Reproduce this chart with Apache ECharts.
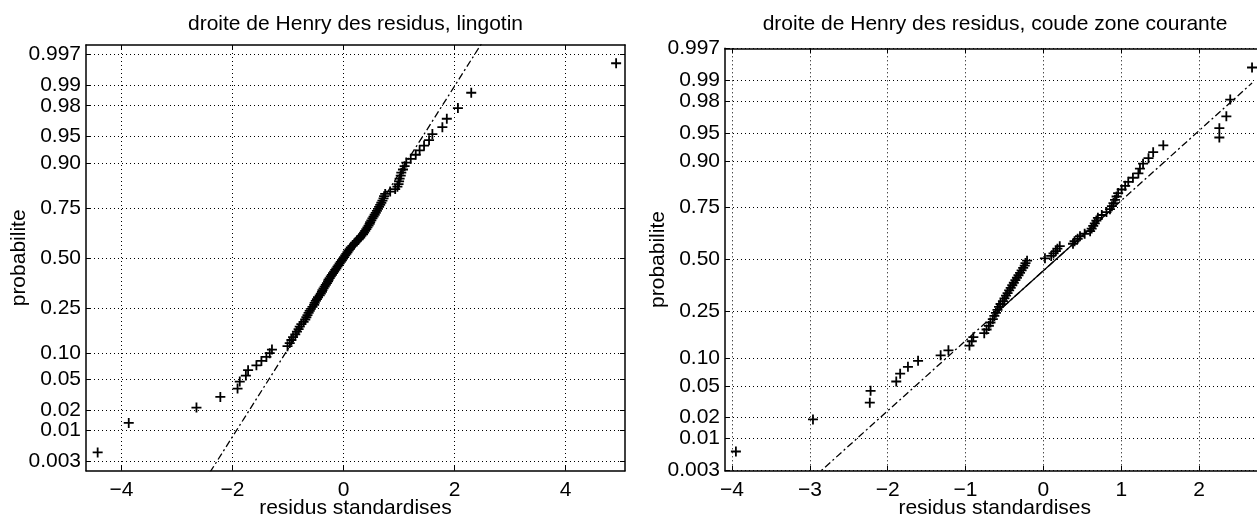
<!DOCTYPE html>
<html><head><meta charset="utf-8">
<script src="https://cdn.jsdelivr.net/npm/echarts@6/dist/echarts.min.js"></script>
<style>html,body{margin:0;padding:0;background:#fff}#c{width:1257px;height:523px}</style>
</head><body><div id="c"></div>
<script>
// ---- data ----
const titles = ['droite de Henry des residus, lingotin', 'droite de Henry des residus, coude zone courante'];
const xName = 'residus standardises';
const yName = 'probabilite';
const probTicks = [0.003, 0.01, 0.02, 0.05, 0.10, 0.25, 0.50, 0.75, 0.90, 0.95, 0.98, 0.99, 0.997];
const probTickLabels = ['0.003', '0.01', '0.02', '0.05', '0.10', '0.25', '0.50', '0.75', '0.90', '0.95', '0.98', '0.99', '0.997'];
const xTicksLeft = [-4, -2, 0, 2, 4];
const xTicksRight = [-4, -3, -2, -1, 0, 1, 2];

const residLeft = [
 -4.43, -3.87, -2.65, -2.22, -1.91, -1.87, -1.76, -1.72, -1.57, -1.48,
 -1.39, -1.33, -1.29, -1.01, -0.97, -0.94, -0.91, -0.87, -0.84, -0.81,
 -0.79, -0.76, -0.72, -0.69, -0.67, -0.65, -0.63, -0.61, -0.59, -0.56,
 -0.53, -0.52, -0.50, -0.48, -0.46, -0.43, -0.41, -0.39, -0.38, -0.36,
 -0.34, -0.32, -0.30, -0.28, -0.27, -0.25, -0.23, -0.21, -0.19, -0.17,
 -0.15, -0.13, -0.11, -0.09, -0.07, -0.05, -0.03, -0.01,
 0.01, 0.03, 0.05, 0.07, 0.09, 0.11, 0.13, 0.16, 0.19, 0.21,
 0.24, 0.27, 0.30, 0.32, 0.35, 0.37, 0.39, 0.41, 0.43, 0.45,
 0.47, 0.48, 0.50, 0.52, 0.54, 0.56, 0.58, 0.60, 0.62, 0.64,
 0.66, 0.68, 0.70, 0.72, 0.73, 0.75, 0.84, 0.93, 0.97, 0.99,
 1.00, 1.01, 1.03, 1.04, 1.07, 1.10, 1.13, 1.21, 1.30, 1.37,
 1.45, 1.54, 1.60, 1.78, 1.86, 2.06, 2.30, 4.91
];
const probLeft = [
 0.0043, 0.0129, 0.0216, 0.0302, 0.0388, 0.0474, 0.0560, 0.0647, 0.0733, 0.0819,
 0.0905, 0.0991, 0.1078, 0.1164, 0.1250, 0.1336, 0.1422, 0.1509, 0.1595, 0.1681,
 0.1767, 0.1853, 0.1940, 0.2026, 0.2112, 0.2198, 0.2284, 0.2371, 0.2457, 0.2543,
 0.2629, 0.2716, 0.2802, 0.2888, 0.2974, 0.3060, 0.3147, 0.3233, 0.3319, 0.3405,
 0.3491, 0.3578, 0.3664, 0.3750, 0.3836, 0.3922, 0.4009, 0.4095, 0.4181, 0.4267,
 0.4353, 0.4440, 0.4526, 0.4612, 0.4698, 0.4784, 0.4871, 0.4957,
 0.5043, 0.5129, 0.5216, 0.5302, 0.5388, 0.5474, 0.5560, 0.5647, 0.5733, 0.5819,
 0.5905, 0.5991, 0.6078, 0.6164, 0.6250, 0.6336, 0.6422, 0.6509, 0.6595, 0.6681,
 0.6767, 0.6853, 0.6940, 0.7026, 0.7112, 0.7198, 0.7284, 0.7371, 0.7457, 0.7543,
 0.7629, 0.7716, 0.7802, 0.7888, 0.7974, 0.8060, 0.8147, 0.8233, 0.8319, 0.8405,
 0.8491, 0.8578, 0.8664, 0.8750, 0.8836, 0.8922, 0.9009, 0.9095, 0.9181, 0.9267,
 0.9353, 0.9440, 0.9526, 0.9612, 0.9698, 0.9784, 0.9871, 0.9957
];
const residRight = [
 -3.95, -2.96, -2.23, -2.22, -1.89, -1.84, -1.74, -1.61, -1.32, -1.22,
 -0.95, -0.92, -0.90, -0.76, -0.73, -0.70, -0.68, -0.65, -0.63, -0.61,
 -0.59, -0.57, -0.55, -0.52, -0.50, -0.48, -0.46, -0.44, -0.42, -0.40,
 -0.38, -0.36, -0.34, -0.32, -0.30, -0.28, -0.26, -0.24, -0.23, -0.21,
 0.02, 0.10, 0.13, 0.16, 0.18, 0.21, 0.38, 0.40, 0.44, 0.47,
 0.53, 0.60, 0.62, 0.64, 0.66, 0.68, 0.70, 0.75, 0.81, 0.855,
 0.88, 0.90, 0.92, 0.94, 0.96, 1.005, 1.05, 1.09, 1.15, 1.22,
 1.24, 1.28, 1.35, 1.41, 1.54, 2.26, 2.26, 2.35, 2.40, 2.68
];
const probRight = [
 0.00625, 0.01875, 0.03125, 0.04375, 0.05625, 0.06875, 0.08125, 0.09375, 0.10625, 0.11875,
 0.13125, 0.14375, 0.15625, 0.16875, 0.18125, 0.19375, 0.20625, 0.21875, 0.23125, 0.24375,
 0.25625, 0.26875, 0.28125, 0.29375, 0.30625, 0.31875, 0.33125, 0.34375, 0.35625, 0.36875,
 0.38125, 0.39375, 0.40625, 0.41875, 0.43125, 0.44375, 0.45625, 0.46875, 0.48125, 0.49375,
 0.50625, 0.51875, 0.53125, 0.54375, 0.55625, 0.56875, 0.58125, 0.59375, 0.60625, 0.61875,
 0.63125, 0.64375, 0.65625, 0.66875, 0.68125, 0.69375, 0.70625, 0.71875, 0.73125, 0.74375,
 0.75625, 0.76875, 0.78125, 0.79375, 0.80625, 0.81875, 0.83125, 0.84375, 0.85625, 0.86875,
 0.88125, 0.89375, 0.90625, 0.91875, 0.93125, 0.94375, 0.95625, 0.96875, 0.98125, 0.99375
];
// Henry line: passes through the quartile points (x at p=0.25, x at p=0.75), extended over the data range
const henryLeftQuartiles = [-0.53, 0.61];
const henryRightQuartiles = [-0.58, 0.90];
const henryLeftRange = [-4.43, 4.91];
const henryRightRange = [-3.95, 2.68];

// ---- normal probability scale ----
function norminv(p) {
  const a = [-3.969683028665376e+01, 2.209460984245205e+02, -2.759285104469687e+02, 1.383577518672690e+02, -3.066479806614716e+01, 2.506628277459239e+00];
  const b = [-5.447609879822406e+01, 1.615858368580409e+02, -1.556989798598866e+02, 6.680131188771972e+01, -1.328068155288572e+01];
  const c = [-7.784894002430293e-03, -3.223964580411365e-01, -2.400758277161838e+00, -2.549671010243243e+00, 4.374664141464968e+00, 2.938163982698783e+00];
  const d = [7.784695709041462e-03, 3.224671290700398e-01, 2.445134137142996e+00, 3.754408661907416e+00];
  const pl = 0.02425, ph = 1 - pl;
  let q, r;
  if (p < pl) { q = Math.sqrt(-2 * Math.log(p)); return (((((c[0]*q+c[1])*q+c[2])*q+c[3])*q+c[4])*q+c[5]) / ((((d[0]*q+d[1])*q+d[2])*q+d[3])*q+1); }
  if (p <= ph) { q = p - 0.5; r = q*q; return (((((a[0]*r+a[1])*r+a[2])*r+a[3])*r+a[4])*r+a[5])*q / (((((b[0]*r+b[1])*r+b[2])*r+b[3])*r+b[4])*r+1); }
  q = Math.sqrt(-2 * Math.log(1 - p));
  return -(((((c[0]*q+c[1])*q+c[2])*q+c[3])*q+c[4])*q+c[5]) / ((((d[0]*q+d[1])*q+d[2])*q+d[3])*q+1);
}
const zTicks = probTicks.map(norminv);
function probLabel(v) {
  let best = 0, bd = 1e9;
  zTicks.forEach((z, i) => { const dd = Math.abs(z - v); if (dd < bd) { bd = dd; best = i; } });
  return probTickLabels[best];
}
function xLabel(v) { return v < 0 ? '\u2212' + Math.abs(v) : String(v); }

const FONT = "'Liberation Sans', Arial, Helvetica, sans-serif";
const FS = 21;
const zQ = norminv(0.75);
function henry(quart, range) {
  const slope = 2 * zQ / (quart[1] - quart[0]);
  const f = x => -zQ + (x - quart[0]) * slope;
  return {
    full: [[range[0], f(range[0])], [range[1], f(range[1])]],
    mid: [[quart[0], -zQ], [quart[1], zQ]]
  };
}

const grids = [
  { left: 86, right: 632, top: 45, bottom: 52.3 },
  { left: 725, right: -7.5, top: 48.3, bottom: 52.3 }
];
const ranges = [
  { xmin: -4.64, xmax: 5.07, zmin: -2.874, zmax: 2.874, xt: xTicksLeft },
  { xmin: -4.09, xmax: 2.84, zmin: norminv(0.003), zmax: norminv(0.997), xt: xTicksRight }
];

const axisLine = { show: true, onZero: false, lineStyle: { color: '#000', width: 1.5 } };
const tickStyle = { color: '#000', width: 1 };
const gridLine = { show: true, lineStyle: { color: '#000', width: 1, type: [1, 3] } };

const xAxes = [], yAxes = [];
ranges.forEach((r, g) => {
  xAxes.push({
    type: 'value', gridIndex: g, position: 'bottom', min: r.xmin, max: r.xmax,
    axisLine, axisTick: { show: true, inside: true, length: 5, customValues: r.xt, lineStyle: tickStyle },
    axisLabel: { customValues: r.xt, formatter: xLabel, fontSize: FS, fontFamily: FONT, color: '#000', margin: 9 },
    splitLine: gridLine,
    name: xName, nameLocation: 'middle', nameGap: 27, nameMoveOverlap: false,
    nameTextStyle: { fontSize: FS, fontFamily: FONT, color: '#000', verticalAlign: 'top' }
  });
  xAxes.push({
    type: 'value', gridIndex: g, position: 'top', min: r.xmin, max: r.xmax,
    axisLine, axisTick: { show: true, inside: true, length: 5, customValues: r.xt, lineStyle: tickStyle },
    axisLabel: { show: false }, splitLine: { show: false }
  });
  yAxes.push({
    type: 'value', gridIndex: g, position: 'left', min: r.zmin, max: r.zmax,
    axisLine, axisTick: { show: true, inside: true, length: 5, customValues: zTicks, lineStyle: tickStyle },
    axisLabel: { customValues: zTicks, formatter: probLabel, fontSize: FS, fontFamily: FONT, color: '#000', margin: 5, hideOverlap: false },
    splitLine: gridLine,
    name: yName, nameLocation: 'middle', nameRotate: 90, nameGap: 56, nameMoveOverlap: false,
    nameTextStyle: { fontSize: FS, fontFamily: FONT, color: '#000' }
  });
  yAxes.push({
    type: 'value', gridIndex: g, position: 'right', min: r.zmin, max: r.zmax,
    axisLine, axisTick: { show: true, inside: true, length: 5, customValues: zTicks, lineStyle: tickStyle },
    axisLabel: { show: false }, splitLine: { show: false }
  });
});

const plus = 'path://M4.1,0H5.9V4.1H10V5.9H5.9V10H4.1V5.9H0V4.1H4.1Z';
const hl = henry(henryLeftQuartiles, henryLeftRange);
const hr = henry(henryRightQuartiles, henryRightRange);
const dashDot = [7, 3, 2, 3];
function lineSeries(data, xi, yi, type) {
  return { type: 'line', xAxisIndex: xi, yAxisIndex: yi, data, symbol: 'none', clip: true, silent: true, z: 2,
    lineStyle: { color: '#000', width: 1.3, type } };
}
function scatterSeries(resid, prob, xi, yi) {
  return { type: 'scatter', xAxisIndex: xi, yAxisIndex: yi, symbol: plus, symbolSize: 10, silent: true, z: 3,
    itemStyle: { color: '#000', opacity: 1 }, data: resid.map((x, i) => [x, norminv(prob[i])]) };
}

const chart = echarts.init(document.getElementById('c'), null, { renderer: 'canvas' });
chart.setOption({
  animation: false,
  backgroundColor: '#fff',
  grid: grids.map(g => Object.assign({ containLabel: false, outerBoundsMode: 'none' }, g)),
  xAxis: xAxes,
  yAxis: yAxes,
  graphic: [
    { type: 'text', x: 355.5, y: 14, style: { text: titles[0], align: 'center', font: FS + 'px ' + FONT, fill: '#000' } },
    { type: 'text', x: 995, y: 14, style: { text: titles[1], align: 'center', font: FS + 'px ' + FONT, fill: '#000' } }
  ],
  series: [
    lineSeries(hl.full, 0, 0, dashDot),
    lineSeries(hl.mid, 0, 0, 'solid'),
    scatterSeries(residLeft, probLeft, 0, 0),
    lineSeries(hr.full, 2, 2, dashDot),
    lineSeries(hr.mid, 2, 2, 'solid'),
    scatterSeries(residRight, probRight, 2, 2)
  ]
});
</script></body></html>
